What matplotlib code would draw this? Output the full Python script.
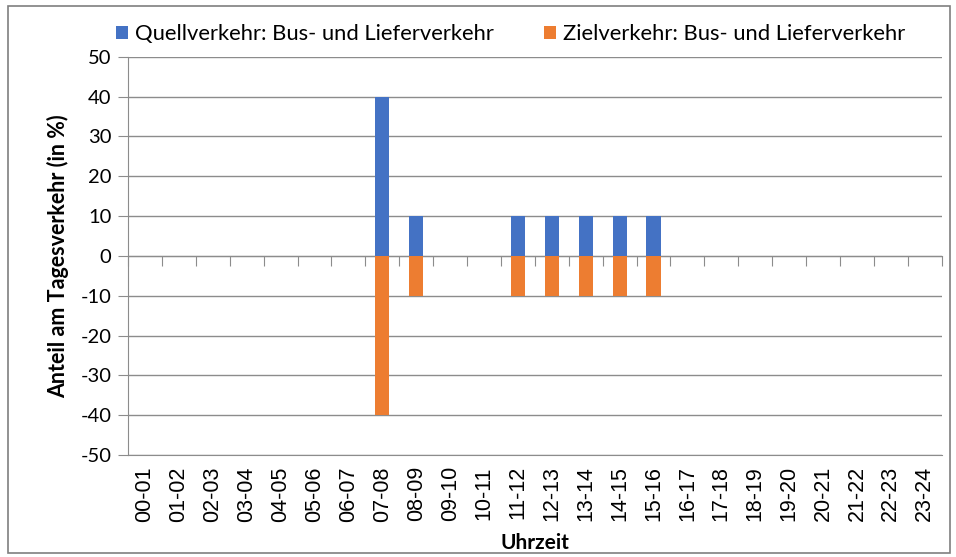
import numpy as np
import matplotlib.pyplot as plt

# Stundengruppen und Anteile am Tagesverkehr (in %)
hours = ['%02d-%02d' % (h, h + 1) for h in range(24)]
quell = [0, 0, 0, 0, 0, 0, 0, 40, 10, 0, 0, 10, 10, 10, 10, 10, 0, 0, 0, 0, 0, 0, 0, 0]
ziel = [0, 0, 0, 0, 0, 0, 0, -40, -10, 0, 0, -10, -10, -10, -10, -10, 0, 0, 0, 0, 0, 0, 0, 0]
y_ticks = list(range(-50, 51, 10))

blue = '#4472C4'
orange = '#ED7D31'
grid_c = '#8c8c8c'

plt.rcParams['font.family'] = ['Lato', 'DejaVu Sans']
plt.rcParams['axes.unicode_minus'] = False

fig = plt.figure(figsize=(9.56, 5.57), dpi=100)
ax = fig.add_axes([0.134, 0.183, 0.851, 0.715])

x = np.arange(len(hours))
ax.bar(x, quell, width=0.42, color=blue, label='Quellverkehr: Bus- und Lieferverkehr', zorder=3)
ax.bar(x, ziel, width=0.42, color=orange, label='Zielverkehr: Bus- und Lieferverkehr', zorder=3)

ax.set_xlim(-0.5, len(hours) - 0.5)
ax.set_ylim(-50, 50)
ax.set_yticks(y_ticks)
ax.tick_params(axis='y', labelsize=14.5, length=7, color=grid_c, pad=5)
ax.yaxis.grid(True, color=grid_c, linewidth=1.0, zorder=0)

ax.set_xticks(x)
ax.set_xticklabels(hours, rotation=90, fontsize=15.5, family=['Liberation Sans', 'DejaVu Sans'])
ax.tick_params(axis='x', length=0, pad=8)

for s in ['top', 'right']:
    ax.spines[s].set_visible(False)
ax.spines['left'].set_color(grid_c)
ax.spines['bottom'].set_color(grid_c)

# Kategorie-Trennstriche an der Nulllinie
sec = ax.secondary_xaxis(0, transform=ax.transData)
sec.set_xticks(np.arange(len(hours) + 1) - 0.5)
sec.tick_params(length=7, color=grid_c, labelbottom=False)
sec.spines['bottom'].set_color(grid_c)

ax.set_xlabel('Uhrzeit', fontsize=15, fontweight='bold', va='center')
ax.xaxis.set_label_coords(0.5, -0.222)
ax.set_ylabel('Anteil am Tagesverkehr (in %)', fontsize=15.5, fontweight='bold', va='center')
ax.yaxis.set_label_coords(-0.086, 0.5)

leg = ax.legend(loc='lower center', bbox_to_anchor=(0.47, 1.01), ncol=2, frameon=False,
                prop={'size': 15.8},
                handlelength=0.55, handleheight=0.55, handletextpad=0.3, columnspacing=2.3,
                borderaxespad=0.0)

# Rahmen um das gesamte Diagramm
fig.patches.append(plt.Rectangle((0.008, 0.008), 0.986, 0.982, transform=fig.transFigure,
                                 fill=False, edgecolor='#7f7f7f', linewidth=1.2))

fig.savefig('out.png', dpi=100)
